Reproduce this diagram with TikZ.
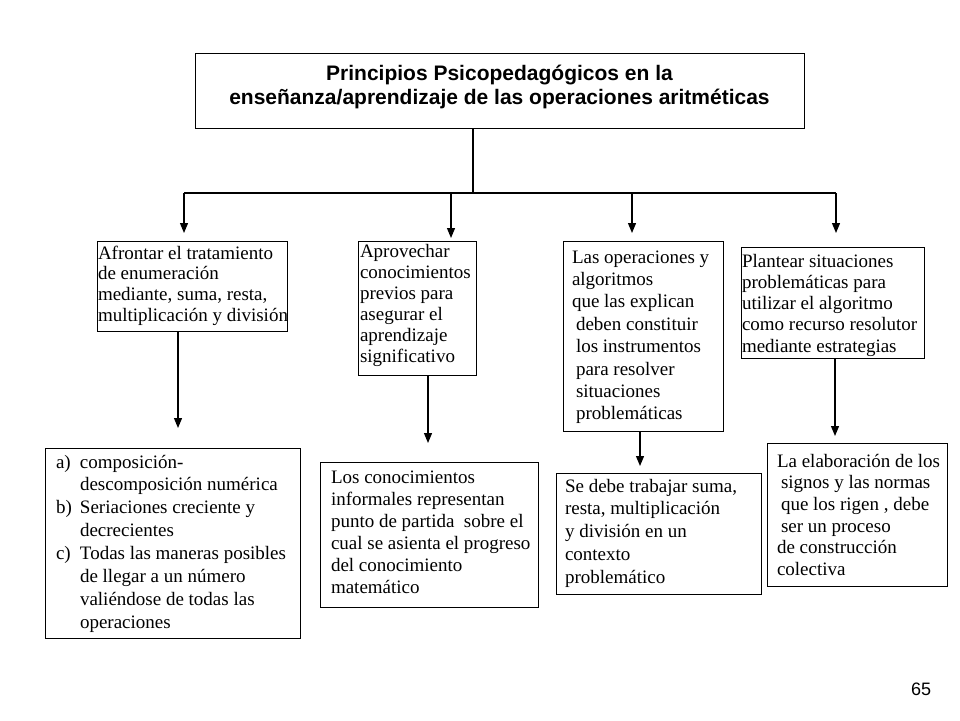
\documentclass[tikz,border=0pt]{standalone}
\usepackage{fontspec}
\setmainfont{Liberation Serif}
\newfontfamily\arialf{Liberation Sans}
\usetikzlibrary{arrows.meta}
\tikzset{
  box/.style={draw, line width=1pt, inner sep=0pt, outer sep=0pt, rectangle, anchor=north west},
  txt/.style={inner sep=0pt, outer sep=0pt, anchor=base west, align=left},
  conn/.style={line width=1.2pt},
  arr/.style={line width=1.2pt, -{Triangle[width=8pt,length=10pt]}},
}
\newcommand{\bodyfont}[1]{\fontsize{19}{#1}\selectfont}
\newcommand{\ind}{\hspace*{4pt}}
\newcommand{\lbl}[1]{\makebox[24pt][l]{#1}}
\newcommand{\cnt}{\hspace*{24pt}}
\begin{document}
\begin{tikzpicture}[x=1pt,y=-1pt]
\useasboundingbox[fill=white] (0,0) rectangle (960,720);

% title
\node[box, minimum width=609pt, minimum height=75pt] (b0) at (195,53) {};
\node[inner sep=0pt, anchor=base] (t0) at (499.5,80)
  {\parbox[t]{600pt}{\centering\arialf\bfseries\fontsize{21}{24}\selectfont
   Principios Psicopedagógicos en la\hspace*{18pt}\\
   enseñanza/aprendizaje de las operaciones aritméticas}};

% second row
\node[box, minimum width=190pt, minimum height=90pt] (b1) at (97,241) {};
\node[txt] (t1) at (98,259) {\parbox[t]{190pt}{\raggedright\bodyfont{20.7}%
Afrontar el tratamiento\\de enumeración\\mediante, suma, resta,\\multiplicación y división}};

\node[box, minimum width=118pt, minimum height=134pt] (b2) at (358,241) {};
\node[txt] (t2) at (360,257) {\parbox[t]{118pt}{\raggedright\bodyfont{21}%
Aprovechar\\conocimientos\\previos para\\asegurar el\\aprendizaje\\significativo}};

\node[box, minimum width=160pt, minimum height=190pt] (b3) at (563,241) {};
\node[txt] (t3) at (572,263) {\parbox[t]{150pt}{\raggedright\bodyfont{22.4}%
Las operaciones y\\algoritmos\\que las explican\\\ind deben constituir\\\ind los instrumentos\\\ind para resolver\\\ind situaciones\\\ind problemáticas}};

\node[box, minimum width=183pt, minimum height=111pt] (b4) at (741,247) {};
\node[txt] (t4) at (742,267) {\parbox[t]{183pt}{\raggedright\bodyfont{21.3}%
Plantear situaciones\\problemáticas para\\utilizar el algoritmo\\como recurso resolutor\\mediante estrategias}};

% third row
\node[box, minimum width=255pt, minimum height=190pt] (b5) at (45,448) {};
\node[txt] (t5) at (56,468) {\parbox[t]{240pt}{\raggedright\bodyfont{22.9}%
\lbl{a)}composición-\\\cnt descomposición numérica\\\lbl{b)}Seriaciones creciente y\\\cnt decrecientes\\\lbl{c)}Todas las maneras posibles\\\cnt de llegar a un número\\\cnt valiéndose de todas las\\\cnt operaciones}};

\node[box, minimum width=218pt, minimum height=145pt] (b6) at (320,462) {};
\node[txt] (t6) at (331,483) {\parbox[t]{205pt}{\raggedright\bodyfont{22}%
Los conocimientos\\informales representan\\punto de partida \ sobre el\\cual se asienta el progreso\\del conocimiento\\matemático}};

\node[box, minimum width=205pt, minimum height=121pt] (b7) at (556,473) {};
\node[txt] (t7) at (565,492) {\parbox[t]{192pt}{\raggedright\bodyfont{22.75}%
Se debe trabajar suma,\\resta, multiplicación\\y división en un\\contexto\\problemático}};

\node[box, minimum width=180pt, minimum height=143pt] (b8) at (767,443) {};
\node[txt] (t8) at (777,467) {\parbox[t]{168pt}{\raggedright\bodyfont{21.7}%
La elaboración de los\\\ind signos y las normas\\\ind que los rigen , debe\\\ind ser un proceso\\de construcción\\colectiva}};

% page number
\node[inner sep=0pt, anchor=base west] (pg) at (911,695) {\arialf\fontsize{18}{20}\selectfont 65};

% connectors
\coordinate (j) at (473,193);
\coordinate (j1) at (184,193);
\coordinate (j2) at (451,193);
\coordinate (j3) at (632,193);
\coordinate (j4) at (836,193);
\draw[conn] (b0.south -| j) -- (j);
\draw[conn] (j1) -- (j4);
\draw[arr, shorten >=8pt] (j1) -- (b1.north -| j1);
\draw[arr, shorten >=3pt] (j2) -- (b2.north -| j2);
\draw[arr, shorten >=8pt] (j3) -- (b3.north -| j3);
\draw[arr, shorten >=14pt] (j4) -- (b4.north -| j4);

\coordinate (k1) at (178,0);
\coordinate (k2) at (428,0);
\coordinate (k3) at (640,0);
\coordinate (k4) at (835,0);
\draw[arr, shorten >=20pt] (b1.south -| k1) -- (b5.north -| k1);
\draw[arr, shorten >=19pt] (b2.south -| k2) -- (b6.north -| k2);
\draw[arr, shorten >=7pt] (b3.south -| k3) -- (b7.north -| k3);
\draw[arr, shorten >=7pt] (b4.south -| k4) -- (b8.north -| k4);
\end{tikzpicture}
\end{document}
